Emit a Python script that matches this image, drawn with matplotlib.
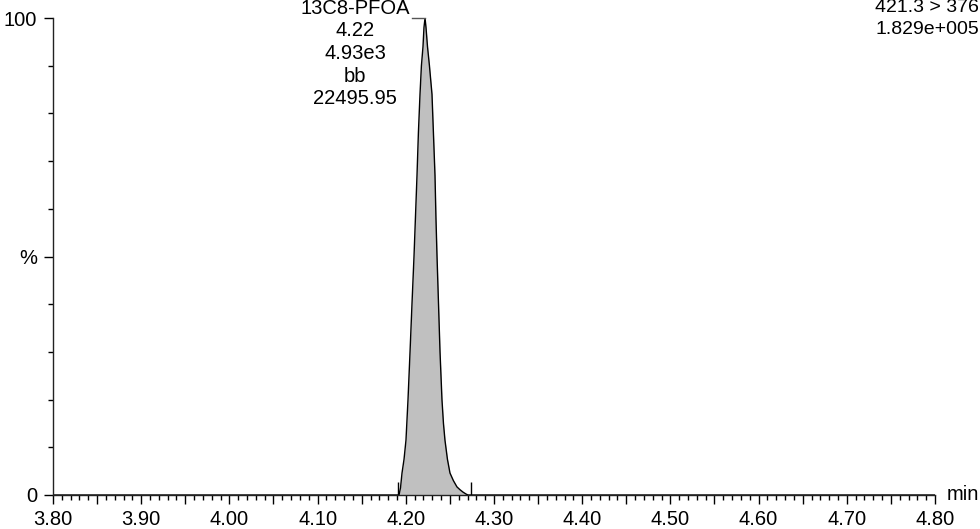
import numpy as np
import matplotlib
matplotlib.use('Agg')
import matplotlib.pyplot as plt
from matplotlib.ticker import MultipleLocator

plt.rcParams['font.family'] = ['Liberation Sans', 'DejaVu Sans']
plt.rcParams['font.size'] = 14.5

# chromatogram trace (min, %)
time = [3.80, 4.1923, 4.1940, 4.1957, 4.1980, 4.2002, 4.2025, 4.2048, 4.2070, 4.2093,
        4.2109, 4.2127, 4.2143, 4.2161, 4.2177, 4.2195, 4.2206, 4.2218,
        4.2229, 4.2246, 4.2268, 4.2297, 4.2313, 4.2331, 4.2342, 4.2354, 4.2371,
        4.2388, 4.2410, 4.2427, 4.2444, 4.2472, 4.2501, 4.2540, 4.2580, 4.2615,
        4.2649, 4.2683, 4.2705, 4.80]
intensity = [0, 0, 1.5, 4.6, 7.5, 11.5, 20, 30, 40, 50,
             58, 67, 76, 84, 90, 94, 98, 100,
             98, 94, 90, 84, 76, 67, 58, 50, 40,
             30, 20, 15, 11.5, 7.5, 4.6, 3.0, 1.7, 1.1,
             0.6, 0.2, 0, 0]

# integration limits
peak_start = 4.1912
peak_end = 4.2739

peak_rt = 4.2218
peak_lines = ['13C8-PFOA', '4.22', '4.93e3', 'bb', '22495.95']
trace_lines = ['421.3 > 376', '1.829e+005']

xticks = np.arange(3.80, 4.801, 0.05)
xtick_labels = ['%.2f' % v if i % 2 == 0 else '' for i, v in enumerate(xticks)]
yticks_major = [0, 50, 100]
ytick_labels = ['0', '%', '100']

fig = plt.figure(figsize=(9.8, 5.29), dpi=100)
ax = fig.add_axes([53/980, 34/529, 882/980, 477/529])

t = np.array(time)
y = np.array(intensity)
ax.fill_between(t, 0, y, color='#c0c0c0', linewidth=0)
ax.plot(t, y, color='black', lw=1)
ax.vlines([peak_start, peak_end], 0, 2.8, color='black', lw=1)

ax.set_xlim(3.80, 4.80)
ax.set_ylim(0, 100)
for s in ['top', 'right']:
    ax.spines[s].set_visible(False)
for s in ['left', 'bottom']:
    ax.spines[s].set_linewidth(1)
    ax.spines[s].set_color('#222222')

ax.set_xticks(xticks)
ax.set_xticklabels(xtick_labels)
ax.xaxis.set_minor_locator(MultipleLocator(0.01))
ax.set_yticks(yticks_major)
ax.set_yticklabels(ytick_labels)
ax.yaxis.set_minor_locator(MultipleLocator(10))
ax.tick_params(axis='both', which='major', direction='out', length=6.5, width=1, pad=4)
ax.tick_params(axis='both', which='minor', direction='out', length=3.6, width=1)
ax.tick_params(axis='y', which='major', pad=5)

ax.text(1.013, 0, 'min', transform=ax.transAxes, ha='left', va='center')

# peak label and leader line
ax.plot([peak_rt - 0.015, peak_rt], [100, 100], color='#555555', lw=1, clip_on=False)
for i, line in enumerate(peak_lines):
    ax.annotate(line, xy=(peak_rt, 100), xytext=(-70, 10 - 22.7 * i),
                textcoords='offset pixels', ha='center', va='center',
                annotation_clip=False)

for i, line in enumerate(trace_lines):
    fig.text(875/980, 1 - (8 + 22 * i)/529, line, ha='left', va='center', fontsize=14)

fig.savefig('out.png', dpi=100)
